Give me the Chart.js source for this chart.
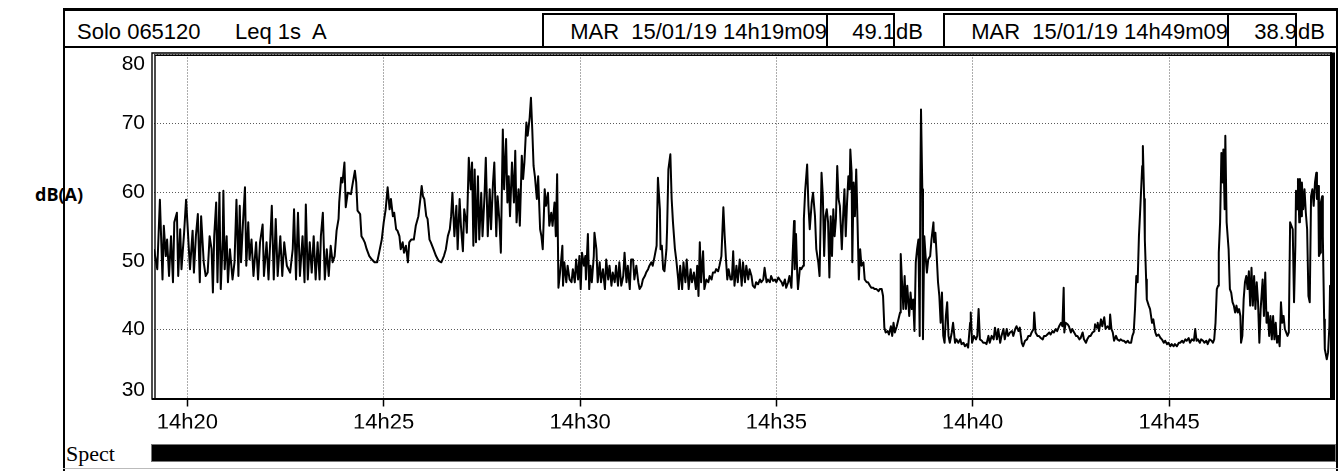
<!DOCTYPE html>
<html>
<head>
<meta charset="utf-8">
<title>Solo 065120 Leq 1s A</title>
<script src="https://cdn.jsdelivr.net/npm/chart.js@4.4.1/dist/chart.umd.min.js"></script>
<style>
    html, body { margin: 0; padding: 0; background: #fff; }
    body { width: 1343px; height: 471px; position: relative; overflow: hidden; font-family: "Liberation Sans", Arial, sans-serif; color: #000; }
    .line { position: absolute; background: #000; }
    .txt { position: absolute; top: 21px; font-size: 22px; line-height: 22px; white-space: pre; }
    .rt { text-align: right; }
    .box { position: absolute; top: 13px; height: 35px; border: 2px solid #000; box-sizing: border-box; }
    #unit { position: absolute; left: 35px; top: 183px; font-family: "Open Sans", sans-serif; font-weight: bold; font-size: 18px; line-height: 22px; }
    #spect { position: absolute; left: 66px; top: 443px; font-family: "Liberation Serif", serif; font-size: 22px; line-height: 22px; }
    #spectBar { position: absolute; left: 151px; top: 444px; width: 1185px; height: 18px; background: #000; border: 1px solid #777; box-sizing: border-box; }
    #chart { position: absolute; left: 0; top: 0; }
</style>
</head>
<body>
<div class="line" style="left:63px;top:8px;width:1275px;height:3px"></div>
<div class="line" style="left:63px;top:8px;width:2px;height:463px"></div>
<div class="line" style="left:1336px;top:8px;width:2px;height:463px"></div>
<div class="line" style="left:63px;top:46px;width:1275px;height:2px"></div>
<div class="line" style="left:63px;top:468px;width:1275px;height:1px;background:#bbb"></div>

<div class="txt" style="left:77px" id="device"></div>
<div class="txt" style="left:235px" id="mode"></div>
<div class="txt rt" style="right:516px" id="cur1"></div>
<div class="txt rt" style="right:448px" id="val1"></div>
<div class="txt" style="left:896px">dB</div>
<div class="txt rt" style="right:115px" id="cur2"></div>
<div class="txt rt" style="right:46px" id="val2"></div>
<div class="txt" style="left:1298px">dB</div>
<div class="box" style="left:542px;width:286px"></div>
<div class="box" style="left:826px;width:69px"></div>
<div class="box" style="left:943px;width:286px"></div>
<div class="box" style="left:1227px;width:70px"></div>

<div id="unit">dB(A)</div>
<div id="spect">Spect</div>
<div id="spectBar"></div>

<canvas id="chart" width="1343" height="471"></canvas>

<script>
// header info
const deviceName = 'Solo 065120';
const measureMode = 'Leq 1s  A';
const cursorTimes = ['MAR  15/01/19 14h19m09', 'MAR  15/01/19 14h49m09'];
const cursorLevels = ['49.1', '38.9'];

// axis: seconds since 14h00
const startTime = 1149;  // 14h19m09
const endTime = 2949;    // 14h49m09
const tickTimes = [1200, 1500, 1800, 2100, 2400, 2700];
const tickLabels = ['14h20', '14h25', '14h30', '14h35', '14h40', '14h45'];
const levelTicks = [30, 40, 50, 60, 70, 80];

// Leq 1s trace (vertices)
const times = [
    1149,1154,1158,1162,1164,1167,1169,1172,1175,1178,
    1180,1184,1186,1189,1191,1195,1198,1200,1204,1208,
    1210,1213,1216,1219,1221,1225,1228,1231,1234,1237,
    1239,1241,1244,1246,1249,1251,1254,1255,1257,1260,
    1262,1265,1269,1272,1275,1278,1280,1282,1285,1288,
    1290,1293,1295,1298,1301,1305,1308,1311,1315,1317,
    1321,1324,1329,1332,1335,1338,1342,1345,1348,1352,
    1357,1361,1363,1366,1369,1372,1376,1379,1381,1384,
    1387,1390,1393,1396,1399,1402,1404,1407,1410,1413,
    1416,1419,1422,1425,1428,1431,1432,1435,1437,1440,
    1442,1445,1450,

    1452,1456,1458,1460,1464,1466,1469,1471,1474,1478,
    1482,1486,1490,1493,1497,1500,1503,1506,1509,1511,
    1514,1516,1519,1521,1524,1526,1529,1531,1534,1537,
    1539,1542,1546,1549,1553,1556,1558,1560,1562,1565,
    1567,1570,1572,1576,1580,1584,1588,1592,1595,1598,
    1601,1603,1605,1608,1611,1613,1616,1618,1621,1623,
    1626,1627,1630,1633,1635,1637,1639,1641,1644,1646,
    1649,1651,1654,1656,1659,1662,1664,1667,1669,1672,
    1674,1677,1679,1682,1684,1687,1689,1691,1693,1696,
    1699,1701,1703,1706,1708,1711,1713,1715,1718,1720,
    1723,1725,1727,1729,1731,1734,1736,1739,1741,1743,
    1746,1748,1751,1753,1756,

    1758,1761,1763,1765,1767,1770,1773,1774,1776,1779,
    1781,1784,1787,1789,1792,1794,1797,1799,1801,1803,
    1806,1808,1809,1812,1814,1816,1818,1821,1822,1825,
    1827,1830,1832,1835,1838,1840,1843,1845,1848,1850,
    1853,1855,1858,1860,1863,1866,1868,1871,1873,1876,
    1878,1881,1883,1886,1889,1891,1894,1896,1899,1901,
    1904,1906,1909,1911,1914,1917,1919,1922,1923,1925,
    1927,1929,1932,1933,1935,1938,1940,1942,1945,1947,
    1950,1951,1953,1956,1958,1961,1963,1966,1969,1971,
    1974,1977,1979,1981,1983,1985,1988,1990,1993,1996,
    1998,2001,2003,2006,2008,2011,2013,2016,2019,2021,
    2023,2025,2027,2030,2032,2034,2036,2039,2041,2044,
    2047,2049,2052,2054,2057,2059,2062,

    2064,2067,2069,2072,2075,2077,2080,2082,2085,2087,
    2090,2092,2095,2098,2100,2103,2105,2108,2110,2113,
    2115,2118,2120,2123,2125,2127,2128,2130,2132,2133,
    2136,2138,2141,2142,2144,2147,2149,2151,2154,2156,
    2159,2161,2164,2166,2169,2171,2173,2175,2177,2179,
    2181,2183,2185,2187,2189,2191,2193,2195,2197,2200,
    2202,2204,2206,2208,2210,2212,2213,2215,2216,2218,
    2220,2222,2224,2226,2228,2230,2233,2235,2238,2240,
    2243,2245,2248,2250,2253,2256,2258,2261,2263,2265,
    2267,2270,2272,2275,2277,2279,2281,2284,2286,2289,
    2290,2292,2294,2296,2298,2300,2303,2305,2307,2309,
    2311,2313,2315,2317,2319,2320,2321,2323,2324,2326,
    2328,2330,2332,2335,2337,2340,2341,2343,2345,2347,
    2349,2351,2353,2355,2357,2359,2361,2363,2365,2368,

    2370,2373,2375,2378,2381,2383,2386,2388,2391,2393,
    2396,2397,2399,2402,2405,2407,2409,2411,2414,2416,
    2419,2421,2424,2426,2429,2432,2434,2437,2439,2442,
    2444,2447,2449,2452,2454,2457,2460,2462,2465,2467,
    2470,2472,2475,2477,2480,2483,2485,2488,2490,2493,
    2494,2496,2499,2501,2504,2507,2509,2512,2514,2517,
    2519,2522,2524,2527,2529,2532,2535,2537,2539,2540,
    2542,2545,2547,2550,2552,2555,2558,2560,2563,2565,
    2568,2570,2573,2575,2578,2580,2583,2586,2587,2590,
    2591,2593,2596,2598,2601,2603,2606,2609,2610,2612,
    2614,2616,2619,2621,2624,2626,2629,2631,2634,2637,
    2639,2642,2644,2646,2648,2650,2652,2654,2656,2657,
    2659,2660,2662,2663,2665,2666,2669,2671,2674,

    2676,2679,2681,2684,2687,2689,2692,2694,2697,2699,
    2702,2704,2707,2709,2712,2715,2717,2720,2722,2725,
    2727,2730,2732,2735,2738,2740,2742,2744,2747,2749,
    2752,2754,2757,2759,2762,2765,2767,2769,2771,2773,
    2775,2776,2778,2780,2782,2783,2785,2786,2788,2791,
    2793,2795,2797,2799,2801,2803,2805,2807,2809,2810,
    2812,2814,2816,2818,2820,2822,2824,2826,2828,2830,
    2832,2834,2836,2838,2840,2843,2845,2847,2849,2851,
    2853,2855,2857,2859,2861,2863,2865,2867,2869,2871,
    2873,2875,2877,2879,2881,2883,2885,2887,2889,2891,
    2893,2894,2896,2897,2899,2900,2902,2903,2905,2907,
    2909,2911,2913,2915,2917,2919,2921,2923,2925,2926,
    2928,2929,2931,2932,2934,2935,2937,2938,2940,2941,
    2943,2945,2946,2948,2949
];

const levels = [
    51.7,48.8,58.9,47.3,55.1,50.7,53.1,47.8,53.6,46.9,
    55.6,57.0,47.8,54.6,48.8,54.1,58.9,55.6,48.8,54.4,
    48.3,53.6,56.8,46.9,56.5,49.8,47.8,48.3,53.6,51.7,
    45.4,53.6,58.5,46.9,59.9,45.9,53.1,60.2,48.8,53.6,
    46.9,51.7,47.3,49.8,58.9,47.8,58.0,49.8,55.6,60.7,
    49.3,55.6,50.2,53.1,47.8,52.7,47.3,52.7,55.3,47.8,
    52.7,47.3,58.0,47.3,56.1,47.8,53.6,47.8,52.7,49.3,
    48.3,51.7,57.5,47.3,57.0,47.8,53.6,46.9,58.2,47.3,
    52.7,48.3,53.6,47.3,52.7,47.3,53.6,57.0,47.3,51.7,
    47.8,52.2,49.8,50.7,54.4,56.1,58.5,62.1,61.4,64.3,
    57.8,59.9,59.7,

    60.9,63.1,61.4,57.3,56.8,53.6,53.1,52.7,51.7,50.7,
    50.2,49.8,49.8,51.2,53.1,55.6,57.5,60.7,57.5,59.0,
    56.5,57.0,54.6,54.4,53.6,51.7,52.7,51.2,52.2,49.8,
    52.7,53.1,53.1,55.1,56.5,59.0,60.9,59.4,59.0,56.5,
    56.1,53.1,52.7,51.7,50.7,50.0,49.8,50.7,51.7,53.6,
    54.6,56.5,59.9,53.6,58.0,51.7,59.0,55.1,51.4,57.5,
    55.6,54.1,65.0,60.4,64.3,52.2,63.3,52.7,62.3,53.1,
    59.9,53.6,59.4,65.0,53.6,60.4,54.6,61.4,64.3,53.6,
    59.4,55.6,51.2,69.1,60.4,67.7,58.5,62.3,56.5,64.3,
    58.5,66.0,55.6,60.4,55.1,65.3,61.9,64.3,70.1,68.2,
    70.8,73.7,69.1,63.8,62.3,59.0,62.3,54.6,53.6,51.7,
    60.4,58.0,59.9,55.1,57.0,

    55.1,58.5,53.6,62.6,46.1,48.8,52.2,46.4,49.8,46.9,
    49.3,47.3,46.9,48.8,46.9,50.2,47.3,50.7,45.9,51.2,
    49.3,50.7,47.3,53.9,45.9,49.3,46.9,50.7,54.1,51.7,
    46.9,49.8,46.9,48.8,45.9,50.2,47.3,49.3,46.4,48.3,
    46.9,49.3,46.4,49.8,46.4,47.8,51.2,46.9,49.3,45.9,
    50.2,50.2,47.3,49.3,46.9,45.9,46.4,47.3,47.8,48.3,
    48.8,49.3,49.8,49.3,50.7,52.2,62.1,57.5,51.7,52.2,
    48.8,48.5,51.7,54.6,63.3,65.5,59.0,55.6,51.7,50.2,
    47.3,45.9,49.3,45.9,49.8,46.9,50.2,45.9,48.8,46.9,
    48.3,45.9,49.3,44.9,52.7,46.9,51.4,45.9,47.3,46.9,
    47.8,47.3,48.3,48.3,48.8,48.5,49.3,50.7,57.8,53.6,
    50.2,47.3,48.8,47.3,47.3,51.4,46.4,49.3,46.9,50.2,
    46.4,49.8,46.9,49.3,47.3,48.8,47.8,

    46.4,46.1,46.9,46.6,47.3,46.9,47.3,49.0,46.9,47.3,
    46.9,47.8,47.1,47.3,46.9,47.6,47.3,46.9,46.4,47.3,
    46.1,46.9,47.8,46.1,51.2,55.8,48.8,53.9,47.8,45.9,
    49.0,48.8,49.3,56.1,60.2,64.0,58.0,54.6,58.5,59.9,
    56.5,51.7,49.8,47.8,62.8,59.4,50.7,56.5,57.5,55.6,
    47.6,56.5,50.7,57.5,53.6,56.1,63.8,59.0,58.0,51.7,
    56.5,60.4,53.6,58.5,62.3,60.4,66.2,62.8,49.8,61.4,
    56.5,63.3,55.6,47.3,51.7,49.3,49.8,47.3,46.9,46.9,
    46.4,46.1,46.1,45.9,45.9,45.6,45.9,45.9,44.9,40.3,
    39.6,39.8,39.3,40.5,39.1,41.0,39.6,40.5,41.3,42.5,
    51.0,46.9,43.0,47.8,43.0,46.4,42.0,45.4,43.0,44.4,
    39.8,49.8,51.7,53.1,39.1,61.4,72.0,60.4,38.6,53.6,
    50.7,48.3,50.2,50.7,53.1,55.6,52.7,54.1,50.7,46.9,
    44.9,41.0,45.4,39.1,38.1,42.0,44.0,39.1,38.1,39.6,

    41.0,38.1,38.6,38.1,38.6,37.9,38.1,37.6,37.9,37.4,
    41.0,42.5,38.1,39.1,38.6,39.1,43.0,38.6,38.4,38.1,
    38.1,37.9,39.1,38.1,39.1,38.6,40.3,38.6,40.1,38.1,
    39.1,40.1,38.6,40.1,39.1,39.6,39.8,39.1,40.1,40.5,
    39.8,40.3,38.1,37.6,38.4,38.6,39.1,39.1,39.6,40.1,
    42.5,39.6,39.1,39.1,38.8,38.6,39.1,39.1,39.3,39.6,
    39.3,39.8,39.6,40.1,39.8,40.5,41.0,40.5,46.1,39.6,
    41.0,40.8,40.5,39.6,40.1,39.6,39.1,39.1,38.6,38.8,
    39.6,38.6,38.1,38.6,39.1,39.1,39.6,39.8,40.8,40.3,
    41.0,39.8,41.5,40.5,41.8,40.1,40.5,40.1,42.2,40.1,
    39.6,38.4,39.1,38.6,38.4,38.6,38.4,38.4,38.1,38.4,
    38.1,38.1,39.1,39.6,43.0,47.8,46.9,53.6,57.5,57.5,
    63.8,66.7,59.0,53.1,47.3,44.4,43.5,43.0,41.0,

    41.5,39.6,39.1,39.3,38.8,38.6,38.1,38.4,37.9,38.1,
    37.6,37.9,37.6,37.9,37.6,38.1,38.1,38.4,38.1,38.6,
    38.4,38.8,38.1,38.6,38.4,40.1,38.4,38.6,38.1,38.6,
    38.4,38.1,38.4,37.9,38.6,38.4,38.1,38.6,41.0,45.9,
    46.4,51.2,55.6,65.7,61.4,66.2,57.5,68.2,55.6,51.7,
    45.9,45.4,44.0,43.5,42.5,43.5,42.5,43.0,42.0,38.1,
    39.1,44.4,46.9,47.8,45.9,48.5,43.5,49.0,43.5,47.8,
    43.0,46.9,44.0,38.1,43.0,47.3,42.0,48.3,41.0,42.5,
    39.1,42.0,38.6,42.0,38.6,41.0,38.1,39.1,37.6,44.0,
    41.0,42.0,40.1,39.6,39.1,39.6,55.6,55.1,54.6,44.0,
    52.2,60.2,57.5,61.9,55.6,61.9,56.5,61.4,57.5,60.4,
    57.0,54.6,44.9,44.0,59.4,60.4,58.0,61.4,62.8,59.0,
    60.9,50.7,51.2,58.5,59.4,53.6,41.5,37.2,36.2,35.7,
    36.7,40.5,46.4,37.2,35.2
];

window.addEventListener('DOMContentLoaded', event => {

    document.getElementById('device').textContent = deviceName;
    document.getElementById('mode').textContent = measureMode;
    document.getElementById('cur1').textContent = cursorTimes[0];
    document.getElementById('cur2').textContent = cursorTimes[1];
    document.getElementById('val1').textContent = cursorLevels[0];
    document.getElementById('val2').textContent = cursorLevels[1];

    const points = times.map((t, i) => ({ x: t, y: levels[i] }));

    // plot frame + y labels (kept inside the plot like the meter software does)
    const framePlugin = {
        id: 'frame',
        afterDraw(chart) {
            const { ctx, chartArea: a, scales: { y } } = chart;
            ctx.save();
            ctx.strokeStyle = '#000';
            ctx.lineWidth = 1.4;
            ctx.beginPath();
            ctx.moveTo(a.left - 2, a.bottom); ctx.lineTo(a.left - 2, a.top - 1.5);
            ctx.lineTo(a.right, a.top - 1.5);
            ctx.moveTo(a.left + 1, a.bottom); ctx.lineTo(a.left + 1, a.top + 0.8);
            ctx.lineTo(a.right, a.top + 0.8);
            ctx.stroke();
            ctx.lineWidth = 2;
            ctx.beginPath();
            ctx.moveTo(a.left - 2.5, a.bottom + 0.5); ctx.lineTo(a.right + 3, a.bottom + 0.5);
            ctx.stroke();
            ctx.fillStyle = '#000';
            ctx.fillRect(a.right - 2, a.top - 2, 5, a.bottom - a.top + 3);

            ctx.font = '21px "Liberation Sans", Arial, sans-serif';
            ctx.textAlign = 'right';
            ctx.textBaseline = 'middle';
            levelTicks.forEach(v => {
                let py = y.getPixelForValue(v);
                py = Math.min(Math.max(py, a.top + 10), a.bottom - 8);
                ctx.fillText(String(v), a.left - 9, py);
            });
            ctx.restore();
        }
    };

    new Chart(document.getElementById('chart'), {
        type: 'line',
        data: {
            datasets: [{
                data: points,
                borderColor: '#000',
                borderWidth: 2,
                borderJoinStyle: 'round',
                pointRadius: 0,
                tension: 0,
                fill: false
            }]
        },
        options: {
            responsive: false,
            animation: false,
            devicePixelRatio: 1,
            parsing: false,
            layout: { padding: { left: 0, right: 11, top: 54.5, bottom: 42.5 } },
            plugins: { legend: { display: false }, tooltip: { enabled: false } },
            scales: {
                x: {
                    type: 'linear',
                    min: startTime,
                    max: endTime,
                    afterBuildTicks: s => { s.ticks = tickTimes.map(v => ({ value: v })); },
                    afterFit: s => { s.height = 30; },
                    grid: { color: '#5a5a5a', lineWidth: 1, tickLength: 8, tickColor: '#000', tickWidth: 1.5 },
                    border: { display: false, dash: [1, 2] },
                    ticks: {
                        autoSkip: false,
                        maxRotation: 0,
                        padding: 3,
                        color: '#000',
                        font: { family: '"Liberation Sans", Arial, sans-serif', size: 22 },
                        callback: v => tickLabels[tickTimes.indexOf(v)]
                    }
                },
                y: {
                    min: 30,
                    max: 80,
                    afterBuildTicks: s => { s.ticks = levelTicks.map(v => ({ value: v })); },
                    afterFit: s => { s.width = 154; },
                    grid: { color: '#5a5a5a', lineWidth: 1, drawTicks: false },
                    border: { display: false, dash: [1, 2] },
                    ticks: { display: false }
                }
            }
        },
        plugins: [framePlugin]
    });
});
</script>
</body>
</html>
